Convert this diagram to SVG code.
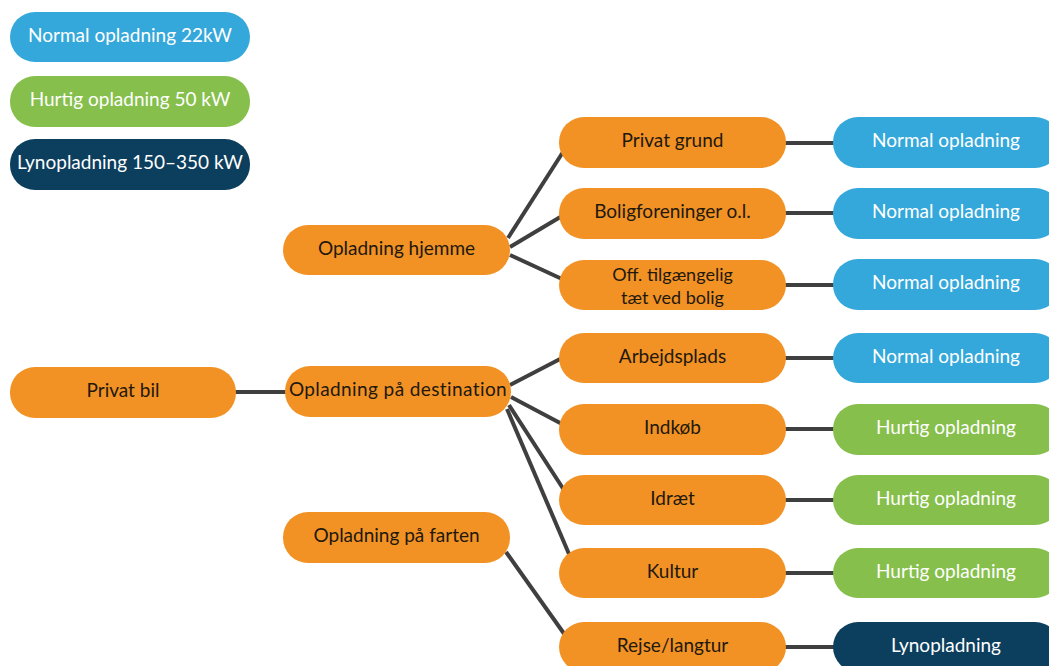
<svg xmlns="http://www.w3.org/2000/svg" width="1049" height="666" viewBox="0 0 1049 666">
<style>
.o{fill:#f29224}
.b{fill:#35a8db}
.g{fill:#86bf4c}
.n{fill:#0c3e5e}
text{font-family:"Lato","Open Sans","Liberation Sans",sans-serif;font-size:19px;text-anchor:middle}
.dt{fill:#22180e}
.wt{fill:#ffffff}
.sm{font-size:18px}
.c{stroke:#3f3f3f;stroke-width:4;fill:none;stroke-linecap:butt}
</style>
<rect width="1049" height="666" fill="#ffffff"/>
<g id="connectors" class="c">
<line x1="230" y1="392" x2="292" y2="392"/>
<line x1="508" y1="238" x2="563" y2="152"/>
<line x1="510" y1="247" x2="562" y2="216"/>
<line x1="510" y1="255" x2="562" y2="279"/>
<line x1="510" y1="385" x2="562" y2="358"/>
<line x1="511" y1="397" x2="562" y2="424"/>
<line x1="509" y1="405" x2="564" y2="490"/>
<line x1="507" y1="409" x2="569" y2="554"/>
<line x1="506" y1="552" x2="565" y2="635"/>
<line x1="780" y1="143" x2="840" y2="143"/>
<line x1="780" y1="213" x2="840" y2="213"/>
<line x1="780" y1="285" x2="840" y2="285"/>
<line x1="780" y1="358" x2="840" y2="358"/>
<line x1="780" y1="429" x2="840" y2="429"/>
<line x1="780" y1="500" x2="840" y2="500"/>
<line x1="780" y1="573" x2="840" y2="573"/>
<line x1="780" y1="647" x2="840" y2="647"/>
</g>
<g id="legend-normal"><rect class="b" x="10" y="12" width="240" height="50" rx="25"/><text class="wt" x="130" y="41.5">Normal opladning 22kW</text></g>
<g id="legend-hurtig"><rect class="g" x="10" y="76" width="240" height="51" rx="25"/><text class="wt" x="130" y="106">Hurtig opladning 50 kW</text></g>
<g id="legend-lyno"><rect class="n" x="10" y="139" width="240" height="51" rx="25"/><text class="wt" x="130" y="169">Lynopladning 150–350 kW</text></g>

<g id="privat-bil"><rect class="o" x="10" y="367" width="226" height="51" rx="25"/><text class="dt" x="123" y="396.5">Privat bil</text></g>
<g id="opladning-hjemme"><rect class="o" x="283" y="225" width="227" height="50" rx="25"/><text class="dt" x="396.5" y="254.5">Opladning hjemme</text></g>
<g id="opladning-destination"><rect class="o" x="285" y="366" width="226" height="51" rx="25"/><text class="dt" x="398" y="396" letter-spacing="0.4">Opladning på destination</text></g>
<g id="opladning-farten"><rect class="o" x="283" y="512" width="227" height="51" rx="25"/><text class="dt" x="396.5" y="541.5">Opladning på farten</text></g>

<g id="privat-grund"><rect class="o" x="559" y="117" width="227" height="51" rx="25"/><text class="dt" x="672.5" y="147">Privat grund</text></g>
<g id="boligforeninger"><rect class="o" x="559" y="188" width="227" height="51" rx="25"/><text class="dt" x="672.5" y="218">Boligforeninger o.l.</text></g>
<g id="off-tilgaengelig"><rect class="o" x="559" y="260" width="227" height="50" rx="25"/><text class="dt sm" x="672.5" y="281">Off. tilgængelig</text><text class="dt sm" x="672.5" y="303.5">tæt ved bolig</text></g>
<g id="arbejdsplads"><rect class="o" x="559" y="333" width="227" height="50" rx="25"/><text class="dt" x="672.5" y="362.5">Arbejdsplads</text></g>
<g id="indkoeb"><rect class="o" x="559" y="404" width="227" height="51" rx="25"/><text class="dt" x="672.5" y="434">Indkøb</text></g>
<g id="idraet"><rect class="o" x="559" y="475" width="227" height="50" rx="25"/><text class="dt" x="672.5" y="504.5">Idræt</text></g>
<g id="kultur"><rect class="o" x="559" y="548" width="227" height="50" rx="25"/><text class="dt" x="672.5" y="577.5">Kultur</text></g>
<g id="rejse"><rect class="o" x="559" y="622" width="227" height="50" rx="25"/><text class="dt" x="672.5" y="651.5">Rejse/langtur</text></g>

<g id="r1"><rect class="b" x="833" y="117" width="227" height="51" rx="25"/><text class="wt" x="946" y="147">Normal opladning</text></g>
<g id="r2"><rect class="b" x="833" y="188" width="227" height="51" rx="25"/><text class="wt" x="946" y="218">Normal opladning</text></g>
<g id="r3"><rect class="b" x="833" y="259" width="227" height="51" rx="25"/><text class="wt" x="946" y="289">Normal opladning</text></g>
<g id="r4"><rect class="b" x="833" y="333" width="227" height="50" rx="25"/><text class="wt" x="946" y="362.5">Normal opladning</text></g>
<g id="r5"><rect class="g" x="833" y="404" width="227" height="51" rx="25"/><text class="wt" x="946" y="434">Hurtig opladning</text></g>
<g id="r6"><rect class="g" x="833" y="475" width="227" height="50" rx="25"/><text class="wt" x="946" y="504.5">Hurtig opladning</text></g>
<g id="r7"><rect class="g" x="833" y="548" width="227" height="50" rx="25"/><text class="wt" x="946" y="577.5">Hurtig opladning</text></g>
<g id="r8"><rect class="n" x="833" y="622" width="227" height="50" rx="25"/><text class="wt" x="946" y="651.5">Lynopladning</text></g>
</svg>
